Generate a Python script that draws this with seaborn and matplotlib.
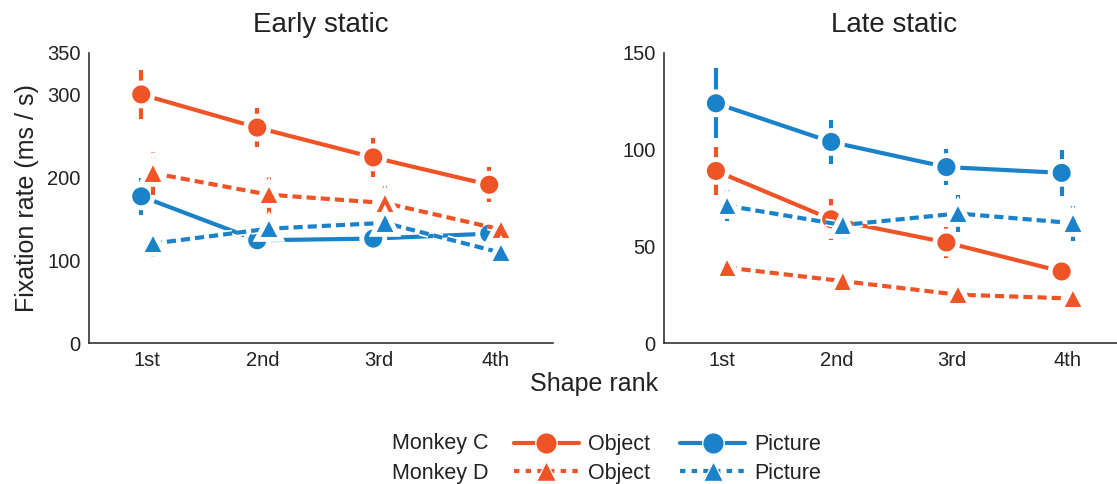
import matplotlib
matplotlib.use("Agg")
import matplotlib.pyplot as plt
import matplotlib.patheffects as pe
from matplotlib.lines import Line2D
import numpy as np
import pandas as pd
import seaborn as sns

# Shape ranks on the x axis
ranks = ["1st", "2nd", "3rd", "4th"]

# Early static period: mean fixation rate (ms / s) and error half-widths
early_c_object = [300, 260, 224, 191]
early_c_object_err = [30, 24, 24, 21]
early_c_picture = [177, 124, 126, 132]
early_c_picture_err = [22, 6, 13, 10]
early_d_object = [205, 179, 169, 137]
early_d_object_err = [26, 24, 21, 13]
early_d_picture = [120, 138, 145, 109]
early_d_picture_err = [16, 6, 8, 10]

# Late static period
late_c_object = [89, 64, 52, 37]
late_c_object_err = [12.5, 10.5, 8, 3]
late_c_picture = [124, 104, 91, 88]
late_c_picture_err = [18, 11.5, 9.3, 12]
late_d_object = [39, 32, 25, 23]
late_d_object_err = [2.5, 2, 2, 2]
late_d_picture = [71, 61, 67, 62]
late_d_picture_err = [8, 7, 9.5, 9]

ORANGE = "#EF5427"
BLUE = "#1A82C9"
DASH = (0, (2.2, 1.2))
LW = 3.0

sns.set_theme(style="white")
plt.rcParams["font.family"] = ["Liberation Sans", "DejaVu Sans"]

fig = plt.figure(figsize=(11.17, 4.84), dpi=100)
ax_early = fig.add_axes([0.0797, 0.2913, 0.4154, 0.5992])
ax_late = fig.add_axes([0.5945, 0.2913, 0.4127, 0.5992])

series_style = {
    # (monkey, material): colour, marker, linestyle, x offset, marker size
    ("C", "Object"): (ORANGE, "o", "-", -0.05, 14.5),
    ("C", "Picture"): (BLUE, "o", "-", -0.05, 14.5),
    ("D", "Object"): (ORANGE, "^", DASH, 0.05, 14),
    ("D", "Picture"): (BLUE, "^", DASH, 0.05, 14),
}

panels = [
    (ax_early, "Early static", [0, 350], [0, 100, 200, 300, 350], {
        ("C", "Picture"): (early_c_picture, early_c_picture_err),
        ("C", "Object"): (early_c_object, early_c_object_err),
        ("D", "Object"): (early_d_object, early_d_object_err),
        ("D", "Picture"): (early_d_picture, early_d_picture_err),
    }),
    (ax_late, "Late static", [0, 150], [0, 50, 100, 150], {
        ("C", "Object"): (late_c_object, late_c_object_err),
        ("C", "Picture"): (late_c_picture, late_c_picture_err),
        ("D", "Object"): (late_d_object, late_d_object_err),
        ("D", "Picture"): (late_d_picture, late_d_picture_err),
    }),
]

halo = [pe.Stroke(linewidth=LW + 2.5, foreground="white"), pe.Normal()]

for ax, title, ylim, yticks, data in panels:
    z = 3
    for key, (vals, errs) in data.items():
        color, marker, ls, off, ms = series_style[key]
        xpos = np.arange(len(ranks)) + off
        vals = np.asarray(vals, float)
        errs = np.asarray(errs, float)
        df = pd.DataFrame({"rank": xpos, "rate": vals})
        ax.vlines(xpos, vals - errs, vals + errs, colors=color,
                  linewidth=LW, linestyles=[ls], zorder=z - 0.5)
        sns.lineplot(data=df, x="rank", y="rate", ax=ax, color=color,
                     marker=marker, markersize=ms, markeredgecolor="white",
                     markeredgewidth=1.5, linewidth=LW, linestyle=ls,
                     zorder=z, legend=False)
        ax.lines[-1].set_path_effects(halo)
        z += 1

    ax.set_xlim(-0.5, 3.5)
    ax.set_ylim(*ylim)
    ax.set_xticks(range(len(ranks)))
    ax.set_xticklabels(ranks)
    ax.set_yticks(yticks)
    ax.set_xlabel("")
    ax.set_ylabel("")
    ax.set_title(title, fontsize=20, pad=15, color="#222222")
    for side in ("top", "right"):
        ax.spines[side].set_visible(False)
    for side in ("left", "bottom"):
        ax.spines[side].set_color("#333333")
        ax.spines[side].set_linewidth(1.2)
    ax.tick_params(axis="both", direction="in", length=2, width=0.8,
                   color="#cccccc", labelsize=14.5, labelcolor="#222222",
                   pad=6)
    ax.patch.set_alpha(0)

fig.text(27 / 1117, 1 - 198 / 484, "Fixation rate (ms / s)", rotation=90,
         ha="center", va="center", fontsize=18, color="#222222")
fig.text(594 / 1117, 1 - 384 / 484, "Shape rank", ha="center", va="center",
         fontsize=18, color="#222222")

# Legend: monkey names on the left, material entries in two columns
fig.text(392 / 1117, 1 - 444 / 484, "Monkey C", ha="left", va="center",
         fontsize=15.5, color="#222222")
fig.text(392 / 1117, 1 - 473 / 484, "Monkey D", ha="left", va="center",
         fontsize=15.5, color="#222222")

handles = []
labels = []
for material, color in (("Object", ORANGE), ("Picture", BLUE)):
    for monkey in ("C", "D"):
        _, marker, ls, _, ms = series_style[(monkey, material)]
        leg_ls = ls if ls == "-" else (0, (1.3, 1.5))
        handles.append(Line2D([], [], color=color, marker=marker,
                              markersize=ms + 1, linewidth=LW,
                              linestyle=leg_ls, markeredgecolor="white",
                              markeredgewidth=1.0))
        labels.append(material)

leg = fig.legend(handles, labels, ncol=2, loc="center left",
                 bbox_to_anchor=(514 / 1117, 1 - 459 / 484), frameon=False,
                 fontsize=15.5, handlelength=3.0, handletextpad=0.45,
                 columnspacing=1.4, labelspacing=0.36, borderpad=0,
                 borderaxespad=0)
for t in leg.get_texts():
    t.set_color("#222222")

fig.savefig("out.png", dpi=100, facecolor="white")
